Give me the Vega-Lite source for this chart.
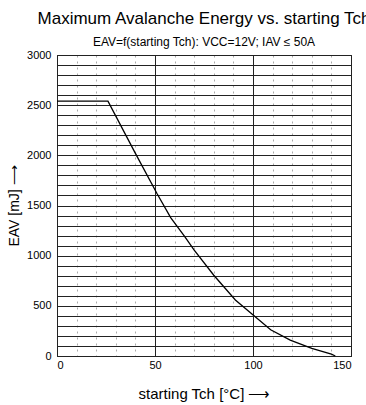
{
  "$schema": "https://vega.github.io/schema/vega-lite/v6.json",
  "autosize": {"type": "none"},
  "padding": {"left": 57, "top": 55, "right": 15, "bottom": 49},
  "width": 294,
  "height": 301,
  "background": "white",
  "title": {
    "text": "Maximum Avalanche Energy vs. starting Tch",
    "subtitle": "EAV=f(starting Tch): VCC=12V; IAV ≤ 50A",
    "anchor": "middle",
    "frame": "group",
    "font": "Liberation Sans",
    "fontSize": 17,
    "fontWeight": "normal",
    "color": "#000",
    "subtitleFont": "Liberation Sans",
    "subtitleFontSize": 12,
    "subtitleColor": "#000",
    "subtitlePadding": 9,
    "offset": 0
  },
  "config": {
    "view": {"stroke": "#000", "strokeWidth": 1},
    "axis": {"labelFont": "Liberation Sans", "titleFont": "Liberation Sans", "labelColor": "#000", "titleColor": "#000", "domain": false, "ticks": false}
  },
  "data": {
    "values": [
      {"T": 0, "E": 2540},
      {"T": 26, "E": 2540},
      {"T": 40, "E": 2020},
      {"T": 51, "E": 1620},
      {"T": 58, "E": 1380},
      {"T": 65, "E": 1195},
      {"T": 70, "E": 1055},
      {"T": 80, "E": 805},
      {"T": 91, "E": 558},
      {"T": 99, "E": 425},
      {"T": 109, "E": 262},
      {"T": 119, "E": 158},
      {"T": 130, "E": 77},
      {"T": 140, "E": 18},
      {"T": 142, "E": 0}
    ]
  },
  "mark": {"type": "line", "color": "#000", "strokeWidth": 1.3, "interpolate": "linear"},
  "encoding": {
    "x": {
      "field": "T", "type": "quantitative",
      "scale": {"domain": [0, 150], "nice": false},
      "axis": {
        "title": "starting Tch [°C]  ⟶",
        "titleFontSize": 15,
        "titleFontWeight": "normal",
        "titlePadding": 16,
        "values": [0,10,20,30,40,50,60,70,80,90,100,110,120,130,140,150],
        "labelExpr": "datum.value % 50 == 0 ? datum.label : ''",
        "labelFontSize": 11,
        "labelPadding": 3,
        "grid": true,
        "gridColor": {"condition": {"test": "datum.value % 50 == 0", "value": "#222"}, "value": "#aaa"},
        "gridDash": {"condition": {"test": "datum.value % 50 == 0", "value": []}, "value": [2, 4]},
        "gridWidth": 1,
        "gridOpacity": 1
      }
    },
    "y": {
      "field": "E", "type": "quantitative",
      "scale": {"domain": [0, 3000], "nice": false},
      "axis": {
        "title": "EAV [mJ]  ⟶",
        "titleFontSize": 14,
        "titleFontWeight": "normal",
        "titlePadding": 5,
        "values": [0,100,200,300,400,500,600,700,800,900,1000,1100,1200,1300,1400,1500,1600,1700,1800,1900,2000,2100,2200,2300,2400,2500,2600,2700,2800,2900,3000],
        "labelExpr": "datum.value % 500 == 0 ? datum.label : ''",
        "format": "d",
        "labelFontSize": 11,
        "labelPadding": 6,
        "grid": true,
        "gridColor": "#222",
        "gridWidth": 1,
        "gridOpacity": 1
      }
    }
  }
}
